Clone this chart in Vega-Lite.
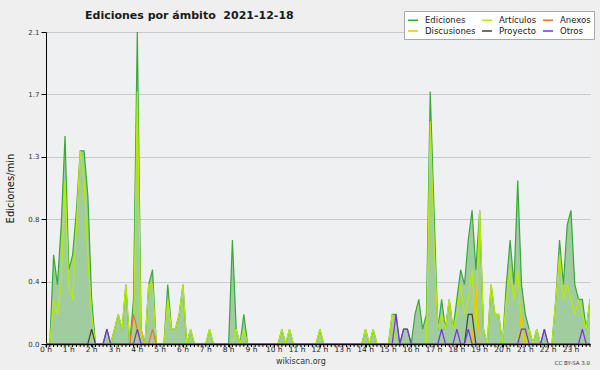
{
  "$schema": "https://vega.github.io/schema/vega-lite/v6.json",
  "width": 544,
  "height": 312,
  "autosize": {"type": "none"},
  "padding": {"left": 46, "top": 32, "right": 10, "bottom": 26},
  "config": {
    "background": "#efefef",
    "view": {"fill": "#eff0f2", "stroke": null},
    "font": "DejaVu Sans",
    "axisX": {
      "labels": false,
      "tickSize": 3,
      "tickColor": "#000000",
      "tickWidth": 1,
      "domainColor": "#000000",
      "domainWidth": 1.5,
      "grid": false,
      "zindex": 1
    },
    "axisY": {
      "labelOverlap": false,
      "labelFlush": false,
      "labelBound": false,
      "labelFont": "DejaVu Sans",
      "labelFontSize": 7,
      "labelColor": "#333333",
      "labelPadding": 2,
      "tickColor": "#000000",
      "domainColor": "#000000",
      "domainWidth": 1,
      "grid": true,
      "gridColor": "#c8c8c8",
      "gridWidth": 1,
      "zindex": 0
    }
  },
  "title": {
    "text": "Ediciones por ámbito\u00a0 2021-12-18",
    "anchor": "start",
    "frame": "group",
    "font": "DejaVu Sans",
    "fontSize": 11,
    "fontWeight": "bold",
    "color": "#1a1a1a",
    "dx": 39,
    "offset": -19,
    "baseline": "alphabetic"
  },
  "datasets": {
    "horas": [
      {"min":0,"etiqueta":"0 h"},{"min":60,"etiqueta":"1 h"},{"min":120,"etiqueta":"2 h"},{"min":180,"etiqueta":"3 h"},
      {"min":240,"etiqueta":"4 h"},{"min":300,"etiqueta":"5 h"},{"min":360,"etiqueta":"6 h"},{"min":420,"etiqueta":"7 h"},
      {"min":480,"etiqueta":"8 h"},{"min":540,"etiqueta":"9 h"},{"min":600,"etiqueta":"10 h"},{"min":660,"etiqueta":"11 h"},
      {"min":720,"etiqueta":"12 h"},{"min":780,"etiqueta":"13 h"},{"min":840,"etiqueta":"14 h"},{"min":900,"etiqueta":"15 h"},
      {"min":960,"etiqueta":"16 h"},{"min":1020,"etiqueta":"17 h"},{"min":1080,"etiqueta":"18 h"},{"min":1140,"etiqueta":"19 h"},
      {"min":1200,"etiqueta":"20 h"},{"min":1260,"etiqueta":"21 h"},{"min":1320,"etiqueta":"22 h"},{"min":1380,"etiqueta":"23 h"}
    ]
  },
  "data": {
    "values": [
      {"min":0,"Ediciones":0,"Artículos":0,"Anexos":0,"Discusiones":0,"Proyecto":0,"Otros":0},
      {"min":10,"Ediciones":0,"Artículos":0,"Anexos":0,"Discusiones":0,"Proyecto":0,"Otros":0},
      {"min":20,"Ediciones":0.6,"Artículos":0.3,"Anexos":0,"Discusiones":0,"Proyecto":0,"Otros":0},
      {"min":30,"Ediciones":0.4,"Artículos":0.2,"Anexos":0,"Discusiones":0,"Proyecto":0,"Otros":0},
      {"min":40,"Ediciones":0.8,"Artículos":0.4,"Anexos":0,"Discusiones":0,"Proyecto":0,"Otros":0},
      {"min":50,"Ediciones":1.4,"Artículos":1.1,"Anexos":0,"Discusiones":0,"Proyecto":0,"Otros":0},
      {"min":60,"Ediciones":0.5,"Artículos":0.4,"Anexos":0,"Discusiones":0,"Proyecto":0,"Otros":0},
      {"min":70,"Ediciones":0.6,"Artículos":0.3,"Anexos":0,"Discusiones":0,"Proyecto":0,"Otros":0},
      {"min":80,"Ediciones":0.9,"Artículos":0.8,"Anexos":0,"Discusiones":0,"Proyecto":0,"Otros":0},
      {"min":90,"Ediciones":1.3,"Artículos":1.3,"Anexos":0,"Discusiones":0,"Proyecto":0,"Otros":0},
      {"min":100,"Ediciones":1.3,"Artículos":1.1,"Anexos":0,"Discusiones":0,"Proyecto":0,"Otros":0},
      {"min":110,"Ediciones":1.0,"Artículos":0.6,"Anexos":0,"Discusiones":0,"Proyecto":0,"Otros":0},
      {"min":120,"Ediciones":0.3,"Artículos":0.2,"Anexos":0,"Discusiones":0,"Proyecto":0.1,"Otros":0},
      {"min":130,"Ediciones":0,"Artículos":0,"Anexos":0,"Discusiones":0,"Proyecto":0,"Otros":0},
      {"min":140,"Ediciones":0,"Artículos":0,"Anexos":0,"Discusiones":0,"Proyecto":0,"Otros":0},
      {"min":150,"Ediciones":0,"Artículos":0,"Anexos":0,"Discusiones":0,"Proyecto":0,"Otros":0},
      {"min":160,"Ediciones":0.1,"Artículos":0,"Anexos":0,"Discusiones":0,"Proyecto":0,"Otros":0.1},
      {"min":170,"Ediciones":0,"Artículos":0,"Anexos":0,"Discusiones":0,"Proyecto":0,"Otros":0},
      {"min":180,"Ediciones":0.1,"Artículos":0.1,"Anexos":0,"Discusiones":0,"Proyecto":0,"Otros":0},
      {"min":190,"Ediciones":0.2,"Artículos":0.2,"Anexos":0,"Discusiones":0,"Proyecto":0,"Otros":0},
      {"min":200,"Ediciones":0.1,"Artículos":0.1,"Anexos":0,"Discusiones":0,"Proyecto":0,"Otros":0},
      {"min":210,"Ediciones":0.4,"Artículos":0.4,"Anexos":0,"Discusiones":0,"Proyecto":0,"Otros":0},
      {"min":220,"Ediciones":0,"Artículos":0,"Anexos":0,"Discusiones":0,"Proyecto":0,"Otros":0},
      {"min":230,"Ediciones":0.3,"Artículos":0,"Anexos":0.2,"Discusiones":0,"Proyecto":0,"Otros":0},
      {"min":240,"Ediciones":2.1,"Artículos":1.7,"Anexos":0.1,"Discusiones":0.1,"Proyecto":0,"Otros":0.1},
      {"min":250,"Ediciones":0.1,"Artículos":0,"Anexos":0,"Discusiones":0.1,"Proyecto":0,"Otros":0},
      {"min":260,"Ediciones":0,"Artículos":0,"Anexos":0,"Discusiones":0,"Proyecto":0,"Otros":0},
      {"min":270,"Ediciones":0.4,"Artículos":0.4,"Anexos":0,"Discusiones":0,"Proyecto":0,"Otros":0},
      {"min":280,"Ediciones":0.5,"Artículos":0.4,"Anexos":0.1,"Discusiones":0,"Proyecto":0,"Otros":0},
      {"min":290,"Ediciones":0,"Artículos":0,"Anexos":0,"Discusiones":0,"Proyecto":0,"Otros":0},
      {"min":300,"Ediciones":0,"Artículos":0,"Anexos":0,"Discusiones":0,"Proyecto":0,"Otros":0},
      {"min":310,"Ediciones":0,"Artículos":0,"Anexos":0,"Discusiones":0,"Proyecto":0,"Otros":0},
      {"min":320,"Ediciones":0.4,"Artículos":0.3,"Anexos":0,"Discusiones":0,"Proyecto":0,"Otros":0},
      {"min":330,"Ediciones":0.1,"Artículos":0.1,"Anexos":0,"Discusiones":0,"Proyecto":0,"Otros":0},
      {"min":340,"Ediciones":0.1,"Artículos":0.1,"Anexos":0,"Discusiones":0,"Proyecto":0,"Otros":0},
      {"min":350,"Ediciones":0.2,"Artículos":0.2,"Anexos":0,"Discusiones":0,"Proyecto":0,"Otros":0},
      {"min":360,"Ediciones":0.4,"Artículos":0.4,"Anexos":0,"Discusiones":0,"Proyecto":0,"Otros":0},
      {"min":370,"Ediciones":0,"Artículos":0,"Anexos":0,"Discusiones":0,"Proyecto":0,"Otros":0},
      {"min":380,"Ediciones":0.1,"Artículos":0.1,"Anexos":0,"Discusiones":0,"Proyecto":0,"Otros":0},
      {"min":390,"Ediciones":0,"Artículos":0,"Anexos":0,"Discusiones":0,"Proyecto":0,"Otros":0},
      {"min":400,"Ediciones":0,"Artículos":0,"Anexos":0,"Discusiones":0,"Proyecto":0,"Otros":0},
      {"min":410,"Ediciones":0,"Artículos":0,"Anexos":0,"Discusiones":0,"Proyecto":0,"Otros":0},
      {"min":420,"Ediciones":0,"Artículos":0,"Anexos":0,"Discusiones":0,"Proyecto":0,"Otros":0},
      {"min":430,"Ediciones":0.1,"Artículos":0.1,"Anexos":0,"Discusiones":0,"Proyecto":0,"Otros":0},
      {"min":440,"Ediciones":0,"Artículos":0,"Anexos":0,"Discusiones":0,"Proyecto":0,"Otros":0},
      {"min":450,"Ediciones":0,"Artículos":0,"Anexos":0,"Discusiones":0,"Proyecto":0,"Otros":0},
      {"min":460,"Ediciones":0,"Artículos":0,"Anexos":0,"Discusiones":0,"Proyecto":0,"Otros":0},
      {"min":470,"Ediciones":0,"Artículos":0,"Anexos":0,"Discusiones":0,"Proyecto":0,"Otros":0},
      {"min":480,"Ediciones":0,"Artículos":0,"Anexos":0,"Discusiones":0,"Proyecto":0,"Otros":0},
      {"min":490,"Ediciones":0.7,"Artículos":0,"Anexos":0,"Discusiones":0,"Proyecto":0,"Otros":0},
      {"min":500,"Ediciones":0.1,"Artículos":0.1,"Anexos":0,"Discusiones":0,"Proyecto":0,"Otros":0},
      {"min":510,"Ediciones":0,"Artículos":0,"Anexos":0,"Discusiones":0,"Proyecto":0,"Otros":0},
      {"min":520,"Ediciones":0.2,"Artículos":0.1,"Anexos":0,"Discusiones":0,"Proyecto":0,"Otros":0},
      {"min":530,"Ediciones":0,"Artículos":0,"Anexos":0,"Discusiones":0,"Proyecto":0,"Otros":0},
      {"min":540,"Ediciones":0,"Artículos":0,"Anexos":0,"Discusiones":0,"Proyecto":0,"Otros":0},
      {"min":550,"Ediciones":0,"Artículos":0,"Anexos":0,"Discusiones":0,"Proyecto":0,"Otros":0},
      {"min":560,"Ediciones":0,"Artículos":0,"Anexos":0,"Discusiones":0,"Proyecto":0,"Otros":0},
      {"min":570,"Ediciones":0,"Artículos":0,"Anexos":0,"Discusiones":0,"Proyecto":0,"Otros":0},
      {"min":580,"Ediciones":0,"Artículos":0,"Anexos":0,"Discusiones":0,"Proyecto":0,"Otros":0},
      {"min":590,"Ediciones":0,"Artículos":0,"Anexos":0,"Discusiones":0,"Proyecto":0,"Otros":0},
      {"min":600,"Ediciones":0,"Artículos":0,"Anexos":0,"Discusiones":0,"Proyecto":0,"Otros":0},
      {"min":610,"Ediciones":0,"Artículos":0,"Anexos":0,"Discusiones":0,"Proyecto":0,"Otros":0},
      {"min":620,"Ediciones":0.1,"Artículos":0.1,"Anexos":0,"Discusiones":0,"Proyecto":0,"Otros":0},
      {"min":630,"Ediciones":0,"Artículos":0,"Anexos":0,"Discusiones":0,"Proyecto":0,"Otros":0},
      {"min":640,"Ediciones":0.1,"Artículos":0.1,"Anexos":0,"Discusiones":0,"Proyecto":0,"Otros":0},
      {"min":650,"Ediciones":0,"Artículos":0,"Anexos":0,"Discusiones":0,"Proyecto":0,"Otros":0},
      {"min":660,"Ediciones":0,"Artículos":0,"Anexos":0,"Discusiones":0,"Proyecto":0,"Otros":0},
      {"min":670,"Ediciones":0,"Artículos":0,"Anexos":0,"Discusiones":0,"Proyecto":0,"Otros":0},
      {"min":680,"Ediciones":0,"Artículos":0,"Anexos":0,"Discusiones":0,"Proyecto":0,"Otros":0},
      {"min":690,"Ediciones":0,"Artículos":0,"Anexos":0,"Discusiones":0,"Proyecto":0,"Otros":0},
      {"min":700,"Ediciones":0,"Artículos":0,"Anexos":0,"Discusiones":0,"Proyecto":0,"Otros":0},
      {"min":710,"Ediciones":0,"Artículos":0,"Anexos":0,"Discusiones":0,"Proyecto":0,"Otros":0},
      {"min":720,"Ediciones":0.1,"Artículos":0.1,"Anexos":0,"Discusiones":0,"Proyecto":0,"Otros":0},
      {"min":730,"Ediciones":0,"Artículos":0,"Anexos":0,"Discusiones":0,"Proyecto":0,"Otros":0},
      {"min":740,"Ediciones":0,"Artículos":0,"Anexos":0,"Discusiones":0,"Proyecto":0,"Otros":0},
      {"min":750,"Ediciones":0,"Artículos":0,"Anexos":0,"Discusiones":0,"Proyecto":0,"Otros":0},
      {"min":760,"Ediciones":0,"Artículos":0,"Anexos":0,"Discusiones":0,"Proyecto":0,"Otros":0},
      {"min":770,"Ediciones":0,"Artículos":0,"Anexos":0,"Discusiones":0,"Proyecto":0,"Otros":0},
      {"min":780,"Ediciones":0,"Artículos":0,"Anexos":0,"Discusiones":0,"Proyecto":0,"Otros":0},
      {"min":790,"Ediciones":0,"Artículos":0,"Anexos":0,"Discusiones":0,"Proyecto":0,"Otros":0},
      {"min":800,"Ediciones":0,"Artículos":0,"Anexos":0,"Discusiones":0,"Proyecto":0,"Otros":0},
      {"min":810,"Ediciones":0,"Artículos":0,"Anexos":0,"Discusiones":0,"Proyecto":0,"Otros":0},
      {"min":820,"Ediciones":0,"Artículos":0,"Anexos":0,"Discusiones":0,"Proyecto":0,"Otros":0},
      {"min":830,"Ediciones":0,"Artículos":0,"Anexos":0,"Discusiones":0,"Proyecto":0,"Otros":0},
      {"min":840,"Ediciones":0.1,"Artículos":0.1,"Anexos":0,"Discusiones":0,"Proyecto":0,"Otros":0},
      {"min":850,"Ediciones":0,"Artículos":0,"Anexos":0,"Discusiones":0,"Proyecto":0,"Otros":0},
      {"min":860,"Ediciones":0.1,"Artículos":0.1,"Anexos":0,"Discusiones":0,"Proyecto":0,"Otros":0},
      {"min":870,"Ediciones":0,"Artículos":0,"Anexos":0,"Discusiones":0,"Proyecto":0,"Otros":0},
      {"min":880,"Ediciones":0,"Artículos":0,"Anexos":0,"Discusiones":0,"Proyecto":0,"Otros":0},
      {"min":890,"Ediciones":0,"Artículos":0,"Anexos":0,"Discusiones":0,"Proyecto":0,"Otros":0},
      {"min":900,"Ediciones":0,"Artículos":0,"Anexos":0,"Discusiones":0,"Proyecto":0,"Otros":0},
      {"min":910,"Ediciones":0.2,"Artículos":0.2,"Anexos":0,"Discusiones":0,"Proyecto":0,"Otros":0},
      {"min":920,"Ediciones":0.2,"Artículos":0,"Anexos":0,"Discusiones":0,"Proyecto":0,"Otros":0.2},
      {"min":930,"Ediciones":0,"Artículos":0,"Anexos":0,"Discusiones":0,"Proyecto":0,"Otros":0},
      {"min":940,"Ediciones":0.1,"Artículos":0,"Anexos":0,"Discusiones":0,"Proyecto":0,"Otros":0.1},
      {"min":950,"Ediciones":0.1,"Artículos":0,"Anexos":0,"Discusiones":0,"Proyecto":0,"Otros":0.1},
      {"min":960,"Ediciones":0,"Artículos":0,"Anexos":0,"Discusiones":0,"Proyecto":0,"Otros":0},
      {"min":970,"Ediciones":0.2,"Artículos":0,"Anexos":0,"Discusiones":0,"Proyecto":0,"Otros":0},
      {"min":980,"Ediciones":0.3,"Artículos":0,"Anexos":0,"Discusiones":0,"Proyecto":0,"Otros":0},
      {"min":990,"Ediciones":0.1,"Artículos":0,"Anexos":0,"Discusiones":0,"Proyecto":0,"Otros":0},
      {"min":1000,"Ediciones":0.2,"Artículos":0,"Anexos":0,"Discusiones":0,"Proyecto":0,"Otros":0},
      {"min":1010,"Ediciones":1.7,"Artículos":1.5,"Anexos":0,"Discusiones":0,"Proyecto":0,"Otros":0},
      {"min":1020,"Ediciones":0.9,"Artículos":0.7,"Anexos":0,"Discusiones":0,"Proyecto":0,"Otros":0},
      {"min":1030,"Ediciones":0.1,"Artículos":0.1,"Anexos":0,"Discusiones":0,"Proyecto":0,"Otros":0},
      {"min":1040,"Ediciones":0.3,"Artículos":0.2,"Anexos":0,"Discusiones":0,"Proyecto":0,"Otros":0.1},
      {"min":1050,"Ediciones":0.1,"Artículos":0.1,"Anexos":0,"Discusiones":0,"Proyecto":0,"Otros":0},
      {"min":1060,"Ediciones":0.3,"Artículos":0.3,"Anexos":0,"Discusiones":0,"Proyecto":0,"Otros":0},
      {"min":1070,"Ediciones":0.1,"Artículos":0.1,"Anexos":0,"Discusiones":0,"Proyecto":0,"Otros":0},
      {"min":1080,"Ediciones":0.3,"Artículos":0.2,"Anexos":0,"Discusiones":0,"Proyecto":0,"Otros":0.1},
      {"min":1090,"Ediciones":0.5,"Artículos":0.4,"Anexos":0,"Discusiones":0,"Proyecto":0,"Otros":0},
      {"min":1100,"Ediciones":0.4,"Artículos":0.2,"Anexos":0,"Discusiones":0,"Proyecto":0,"Otros":0},
      {"min":1110,"Ediciones":0.7,"Artículos":0.3,"Anexos":0,"Discusiones":0,"Proyecto":0.2,"Otros":0.1},
      {"min":1120,"Ediciones":0.9,"Artículos":0.5,"Anexos":0,"Discusiones":0,"Proyecto":0.2,"Otros":0},
      {"min":1130,"Ediciones":0.5,"Artículos":0.1,"Anexos":0,"Discusiones":0.4,"Proyecto":0,"Otros":0},
      {"min":1140,"Ediciones":0.9,"Artículos":0.9,"Anexos":0,"Discusiones":0,"Proyecto":0,"Otros":0},
      {"min":1150,"Ediciones":0.1,"Artículos":0.1,"Anexos":0,"Discusiones":0,"Proyecto":0,"Otros":0},
      {"min":1160,"Ediciones":0,"Artículos":0,"Anexos":0,"Discusiones":0,"Proyecto":0,"Otros":0},
      {"min":1170,"Ediciones":0.4,"Artículos":0.4,"Anexos":0,"Discusiones":0,"Proyecto":0,"Otros":0},
      {"min":1180,"Ediciones":0.2,"Artículos":0.2,"Anexos":0,"Discusiones":0,"Proyecto":0,"Otros":0},
      {"min":1190,"Ediciones":0.2,"Artículos":0.2,"Anexos":0,"Discusiones":0,"Proyecto":0,"Otros":0},
      {"min":1200,"Ediciones":0,"Artículos":0,"Anexos":0,"Discusiones":0,"Proyecto":0,"Otros":0},
      {"min":1210,"Ediciones":0.4,"Artículos":0.3,"Anexos":0,"Discusiones":0,"Proyecto":0,"Otros":0},
      {"min":1220,"Ediciones":0.7,"Artículos":0.5,"Anexos":0,"Discusiones":0,"Proyecto":0,"Otros":0},
      {"min":1230,"Ediciones":0.4,"Artículos":0.3,"Anexos":0,"Discusiones":0,"Proyecto":0,"Otros":0},
      {"min":1240,"Ediciones":1.1,"Artículos":0.5,"Anexos":0,"Discusiones":0,"Proyecto":0,"Otros":0},
      {"min":1250,"Ediciones":0.4,"Artículos":0.1,"Anexos":0,"Discusiones":0.2,"Proyecto":0,"Otros":0.1},
      {"min":1260,"Ediciones":0.2,"Artículos":0,"Anexos":0,"Discusiones":0,"Proyecto":0,"Otros":0.1},
      {"min":1270,"Ediciones":0.1,"Artículos":0.1,"Anexos":0,"Discusiones":0,"Proyecto":0,"Otros":0},
      {"min":1280,"Ediciones":0,"Artículos":0,"Anexos":0,"Discusiones":0,"Proyecto":0,"Otros":0},
      {"min":1290,"Ediciones":0.1,"Artículos":0.1,"Anexos":0,"Discusiones":0,"Proyecto":0,"Otros":0},
      {"min":1300,"Ediciones":0,"Artículos":0,"Anexos":0,"Discusiones":0,"Proyecto":0,"Otros":0},
      {"min":1310,"Ediciones":0.1,"Artículos":0,"Anexos":0,"Discusiones":0,"Proyecto":0,"Otros":0.1},
      {"min":1320,"Ediciones":0,"Artículos":0,"Anexos":0,"Discusiones":0,"Proyecto":0,"Otros":0},
      {"min":1330,"Ediciones":0,"Artículos":0,"Anexos":0,"Discusiones":0,"Proyecto":0,"Otros":0},
      {"min":1340,"Ediciones":0.3,"Artículos":0.3,"Anexos":0,"Discusiones":0,"Proyecto":0,"Otros":0},
      {"min":1350,"Ediciones":0.7,"Artículos":0.6,"Anexos":0,"Discusiones":0,"Proyecto":0,"Otros":0},
      {"min":1360,"Ediciones":0.4,"Artículos":0.3,"Anexos":0,"Discusiones":0,"Proyecto":0,"Otros":0},
      {"min":1370,"Ediciones":0.8,"Artículos":0.4,"Anexos":0,"Discusiones":0,"Proyecto":0,"Otros":0},
      {"min":1380,"Ediciones":0.9,"Artículos":0.3,"Anexos":0,"Discusiones":0,"Proyecto":0,"Otros":0},
      {"min":1390,"Ediciones":0.4,"Artículos":0.2,"Anexos":0,"Discusiones":0,"Proyecto":0,"Otros":0},
      {"min":1400,"Ediciones":0.3,"Artículos":0.3,"Anexos":0,"Discusiones":0,"Proyecto":0,"Otros":0},
      {"min":1410,"Ediciones":0.3,"Artículos":0.2,"Anexos":0,"Discusiones":0,"Proyecto":0,"Otros":0.1},
      {"min":1420,"Ediciones":0.1,"Artículos":0.1,"Anexos":0,"Discusiones":0,"Proyecto":0,"Otros":0},
      {"min":1430,"Ediciones":0.3,"Artículos":0.3,"Anexos":0,"Discusiones":0,"Proyecto":0,"Otros":0}
    ]
  },
  "layer": [
    {
      "transform": [
        {"fold": ["Ediciones", "Artículos", "Anexos", "Discusiones", "Proyecto", "Otros"], "as": ["serie", "valor"]},
        {"filter": "datum.serie === 'Ediciones'"}
      ],
      "mark": {"type": "area", "color": "#a0cca0", "opacity": 1, "clip": true},
      "encoding": {
        "x": {
          "field": "min", "type": "quantitative",
          "scale": {"domain": [0, 1430], "nice": false, "zero": false},
          "axis": {
            "title": null,
            "labels": false,
            "values": [0,60,120,180,240,300,360,420,480,540,600,660,720,780,840,900,960,1020,1080,1140,1200,1260,1320,1380]
          }
        },
        "y": {
          "field": "valor", "type": "quantitative",
          "scale": {"domain": [0, 2.1], "nice": false, "zero": true},
          "axis": {
            "title": "Ediciones/min",
            "titleFont": "DejaVu Sans",
            "titleFontSize": 10,
            "titleFontWeight": "normal",
            "titleColor": "#111111",
            "titlePadding": 12,
            "labelOverlap": false,
            "values": [0,0.105,0.21,0.315,0.42,0.525,0.63,0.735,0.84,0.945,1.05,1.155,1.26,1.365,1.47,1.575,1.68,1.785,1.89,1.995,2.1],
            "labelExpr": "abs(datum.value / 0.42 - round(datum.value / 0.42)) < 0.01 ? format(datum.value, '.1f') : ''",
            "tickSize": {"condition": {"test": "abs(datum.value / 0.42 - round(datum.value / 0.42)) < 0.01", "value": 5}, "value": 2},
            "gridOpacity": {"condition": {"test": "abs(datum.value / 0.42 - round(datum.value / 0.42)) < 0.01", "value": 1}, "value": 0}
          }
        }
      }
    },
    {
      "transform": [
        {"fold": ["Ediciones", "Artículos", "Anexos", "Discusiones", "Proyecto", "Otros"], "as": ["serie", "valor"]}
      ],
      "mark": {"type": "line", "strokeWidth": 1.2, "clip": true, "interpolate": "linear"},
      "encoding": {
        "x": {"field": "min", "type": "quantitative"},
        "y": {"field": "valor", "type": "quantitative"},
        "color": {
          "field": "serie", "type": "nominal",
          "scale": {
            "domain": ["Ediciones", "Artículos", "Anexos", "Discusiones", "Proyecto", "Otros"],
            "range": ["#38a838", "#b8ec00", "#f07030", "#f2c200", "#404040", "#7a2ee8"]
          },
          "legend": {
            "title": null,
            "orient": "none",
            "legendX": 358,
            "legendY": -21,
            "columns": 3,
            "direction": "horizontal",
            "gridAlign": "each",
            "fillColor": "#ffffff",
            "strokeColor": "#a8a8a8",
            "padding": 3,
            "rowPadding": 0,
            "columnPadding": 3,
            "symbolType": "stroke",
            "symbolSize": 100,
            "symbolStrokeWidth": 1.5,
            "labelFont": "DejaVu Sans",
            "labelFontSize": 8.5,
            "labelColor": "#222222",
            "labelOffset": 6
          }
        }
      }
    },
    {
      "mark": {"type": "rule", "color": "#000000", "strokeWidth": 1, "clip": false},
      "encoding": {
        "x": {"field": "min", "type": "quantitative"},
        "y": {"datum": 0, "type": "quantitative"},
        "y2": {"datum": -0.02}
      }
    },
    {
      "data": {"name": "horas"},
      "mark": {"type": "text", "font": "DejaVu Sans", "fontSize": 7.5, "color": "#222222", "align": "center", "baseline": "top"},
      "encoding": {
        "x": {"field": "min", "type": "quantitative"},
        "y": {"datum": -0.012, "type": "quantitative"},
        "text": {"field": "etiqueta", "type": "nominal"}
      }
    },
    {
      "data": {"values": [{}]},
      "mark": {"type": "text", "text": "wikiscan.org", "font": "DejaVu Sans", "fontSize": 8, "color": "#333333", "align": "center", "baseline": "alphabetic"},
      "encoding": {
        "x": {"datum": 670, "type": "quantitative"},
        "y": {"datum": -0.134, "type": "quantitative"}
      }
    },
    {
      "data": {"values": [{}]},
      "mark": {"type": "text", "text": "CC BY-SA 3.0", "font": "DejaVu Sans", "fontSize": 5.5, "color": "#333333", "align": "right", "baseline": "alphabetic"},
      "encoding": {
        "x": {"datum": 1430, "type": "quantitative"},
        "y": {"datum": -0.14, "type": "quantitative"}
      }
    }
  ]
}
